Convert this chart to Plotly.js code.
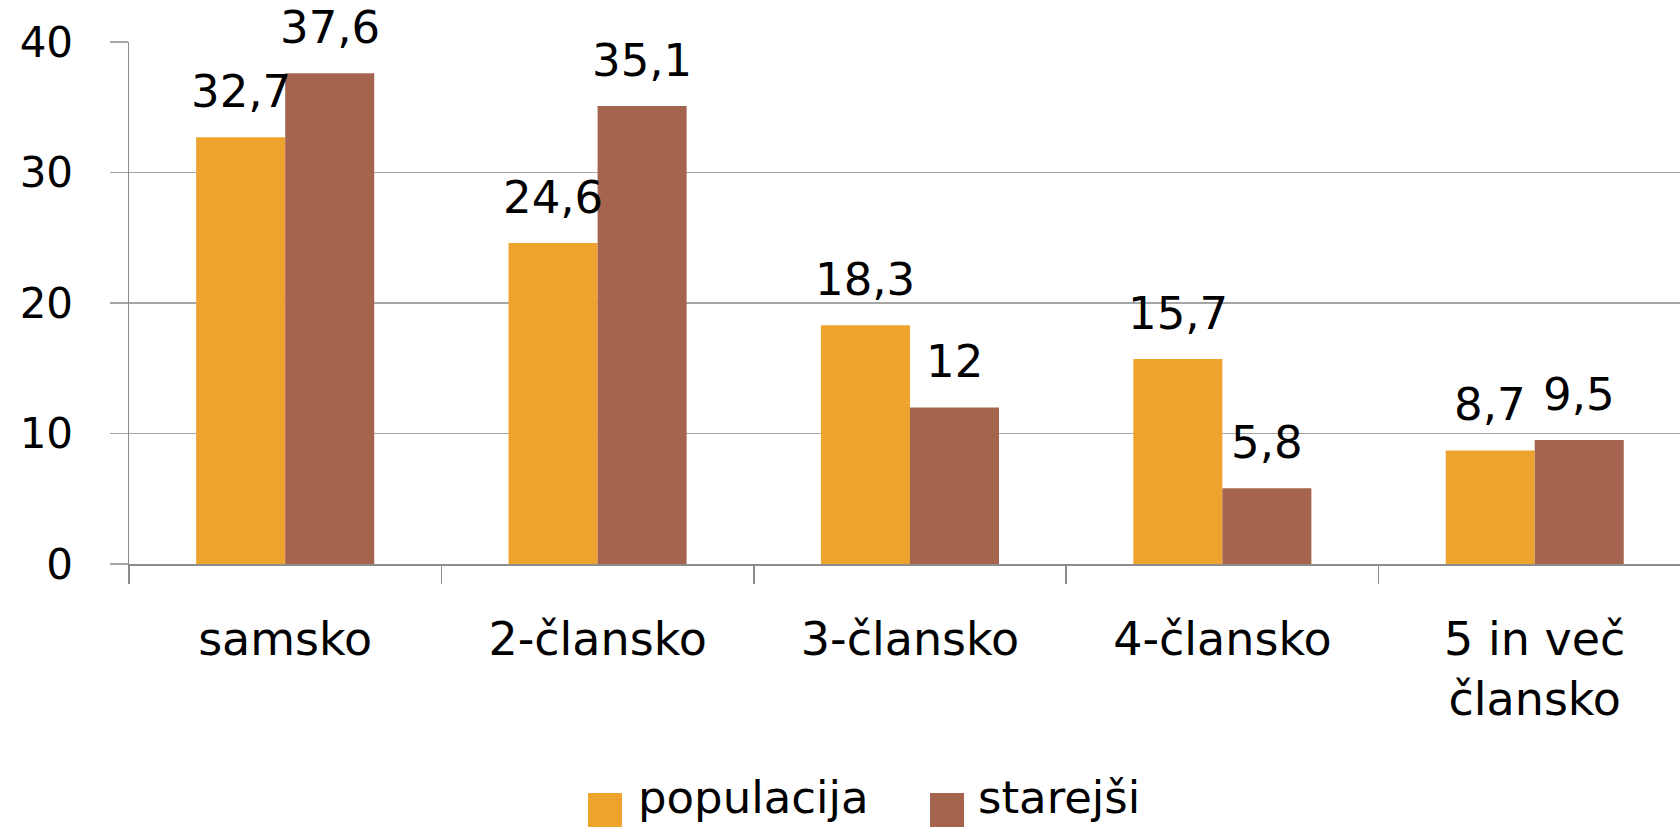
<!DOCTYPE html>
<html>
<head>
<meta charset="utf-8">
<script src="https://cdn.plot.ly/plotly-3.0.1.min.js"></script>
<style>html,body{margin:0;padding:0;background:#fff;}#chart{width:1680px;height:829px;}</style>
</head>
<body>
<div id="chart"></div>
<script>
const categories = ["samsko", "2-člansko", "3-člansko", "4-člansko", "5 in več<br>člansko"];
const seriesNames = ["populacija", "starejši"];
const populacija = [32.7, 24.6, 18.3, 15.7, 8.7];
const starejsi = [37.6, 35.1, 12, 5.8, 9.5];
const yTicks = [0, 10, 20, 30, 40];

const colors = ["#EEA32E", "#A5644E"];
const FONT = "DejaVu Sans, sans-serif";
const W = 1680, H = 829;
const margin = {l: 129, r: 0, t: 42, b: 265};
const bargap = 0.43;
const xRange = [-0.5, 4.465];
const plotW = W - margin.l - margin.r;
const catPx = plotW / (xRange[1] - xRange[0]);
const barPx = catPx * (1 - bargap) / 2;

const series = [populacija, starejsi];
const traces = series.map((vals, s) => ({
  type: "bar",
  name: seriesNames[s],
  x: categories,
  y: vals,
  marker: {color: colors[s], line: {width: 0}},
  showlegend: false,
  hoverinfo: "x+y"
}));

const fmt = v => String(v).replace(".", ",");
const annotations = [];
series.forEach((vals, s) => {
  vals.forEach((v, i) => {
    annotations.push({
      x: categories[i], y: v, xref: "x", yref: "y",
      xshift: (s - 0.5) * barPx, yshift: 17,
      yanchor: "bottom", xanchor: "center",
      text: fmt(v), showarrow: false,
      font: {family: FONT, size: 45, color: "#000"}
    });
  });
});

// custom legend (large squares)
const plotH = H - margin.t - margin.b;
const px2x = px => (px - margin.l) / plotW;
const py2y = py => (H - margin.b - py) / plotH;
const legendItems = [{sq: 588, tx: 636}, {sq: 930, tx: 976}];
const shapes = [];
legendItems.forEach((it, s) => {
  shapes.push({type: "rect", xref: "paper", yref: "paper",
    x0: px2x(it.sq), x1: px2x(it.sq + 34), y0: py2y(827), y1: py2y(793),
    fillcolor: colors[s], line: {width: 0}});
  annotations.push({xref: "paper", yref: "paper", x: px2x(it.tx), y: py2y(797),
    xanchor: "left", yanchor: "middle", text: seriesNames[s], showarrow: false,
    font: {family: FONT, size: 45, color: "#000"}});
});

const layout = {
  width: W, height: H,
  margin: margin,
  paper_bgcolor: "#fff", plot_bgcolor: "#fff",
  barmode: "group", bargap: bargap, bargroupgap: 0,
  showlegend: false,
  font: {family: FONT, color: "#000"},
  xaxis: {
    type: "category", range: xRange,
    tickson: "boundaries", ticks: "outside", ticklen: 18, tickwidth: 1.5, tickcolor: "#8c8c8c",
    showline: true, linecolor: "#8c8c8c", linewidth: 1.5,
    showgrid: false, zeroline: false,
    tickfont: {family: FONT, size: 46, color: "#000"},
    ticklabelstandoff: 34, fixedrange: true
  },
  yaxis: {
    range: [0, 40], tickvals: yTicks, ticktext: yTicks.map(String),
    ticks: "outside", ticklen: 18, tickwidth: 1.5, tickcolor: "#a6a6a6",
    showline: true, linecolor: "#8c8c8c", linewidth: 1.5,
    showgrid: true, gridcolor: "#a6a6a6", gridwidth: 1.5, zeroline: false,
    tickfont: {family: FONT, size: 42, color: "#000"},
    ticklabelstandoff: 28, fixedrange: true
  },
  annotations: annotations,
  shapes: shapes
};

Plotly.newPlot("chart", traces, layout, {displayModeBar: false, staticPlot: true});
</script>
</body>
</html>
